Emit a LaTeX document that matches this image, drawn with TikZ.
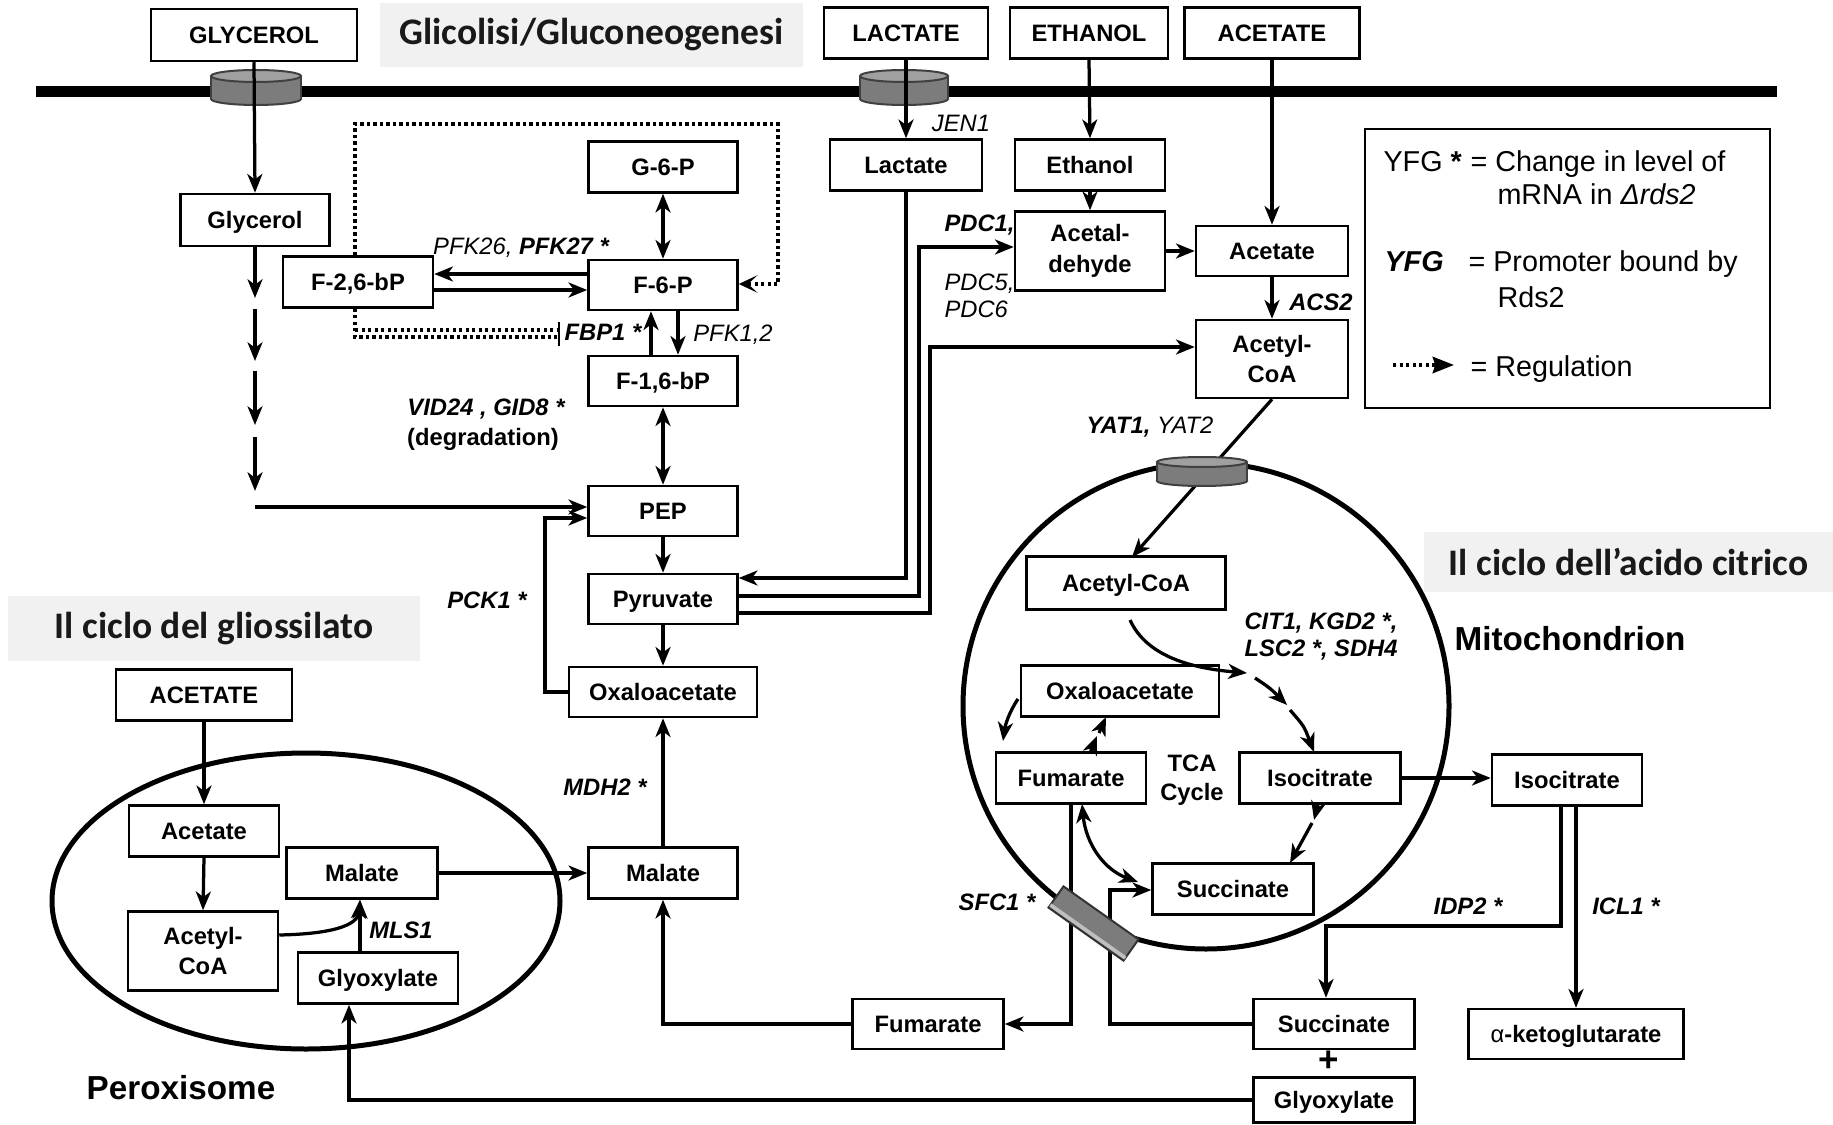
\documentclass[tikz,border=0pt]{standalone}
\usepackage{fontspec}
\setmainfont{Liberation Sans}
\newfontfamily\titlefont{Carlito}
\usetikzlibrary{arrows.meta}
\definecolor{tgray}{HTML}{F1F1F1}
\definecolor{cylgray}{HTML}{7C7C7C}
\definecolor{cyltop}{HTML}{A0A0A0}
\newcommand{\mycyl}[5]{%
  \filldraw[fill=cylgray, draw=black!75, line width=0.8pt] (#1,#3) ellipse [x radius=#4, y radius=#5];
  \fill[cylgray] ({#1-#4},#2) rectangle ({#1+#4},#3);
  \draw[black!75, line width=0.8pt] ({#1-#4},#2) -- ({#1-#4},#3) ({#1+#4},#2) -- ({#1+#4},#3);
  \filldraw[fill=cyltop, draw=black!75, line width=0.8pt] (#1,#2) ellipse [x radius=#4, y radius=#5];
}
\begin{document}
\begin{tikzpicture}[x=0.4pt, y=-0.4pt,
  px/.style 2 args={minimum width=#1*0.4pt, minimum height=#2*0.4pt},
  box/.style={draw, line width=1pt, fill=white, inner sep=0pt, font=\bfseries\fontsize{9.5}{12}\selectfont, text height=6.8pt, text depth=0pt},
  boxtwo/.style={draw, line width=1pt, fill=white, inner sep=0pt, font=\bfseries\fontsize{9.5}{12.2}\selectfont, align=center},
  lab/.style={inner sep=0pt, font=\itshape\fontsize{9.5}{12}\selectfont, text height=6.8pt, text depth=0pt},
  blab/.style={inner sep=0pt, font=\bfseries\itshape\fontsize{9.5}{12}\selectfont, text height=6.8pt, text depth=0pt},
  big/.style={inner sep=0pt, font=\bfseries\fontsize{13.3}{16}\selectfont},
  ttl/.style={fill=tgray, inner sep=0pt, text=black!90, font=\titlefont\bfseries\fontsize{15}{18}\selectfont},
  leg/.style={inner sep=0pt, anchor=base west, font=\fontsize{11.5}{14}\selectfont},
  conn/.style={line width=1.3pt, -{Stealth[length=7.5pt, width=6pt, inset=2.2pt]}},
  dconn/.style={line width=1.3pt, {Stealth[length=7.5pt, width=6pt, inset=2.2pt]}-{Stealth[length=7.5pt, width=6pt, inset=2.2pt]}},
  reg/.style={line width=1.5pt, dash pattern=on 1.3pt off 1.3pt},
  regtip/.style={-{Stealth[length=7.5pt, width=7pt, inset=3.8pt]}},
]
\useasboundingbox (0,0) rectangle (1833,1125);

% ---------- titles ----------
\node[ttl, px={423}{64}] (T1) at (591.5,35) {Glicolisi/Gluconeogenesi};
\node[ttl, px={412}{65}] (T2) at (214,628.5) {Il ciclo del gliossilato};
\node[ttl, px={409}{60}] (T3) at (1628.5,562) {Il ciclo dell’acido citrico};

% ---------- membranes ----------
\draw[line width=4.4pt] (36,91.5) -- (1777,91.5);
\mycyl{256}{76}{99}{45}{6}
\mycyl{904}{76}{99}{44}{6}
\draw[line width=2pt] (306,901) ellipse [x radius=254, y radius=148];
\draw[line width=2pt] (1206,706) circle [radius=243];

% ---------- nodes ----------
\node[box, px={206}{52}] (GLY) at (254,35) {GLYCEROL};
\node[box, px={164}{51}] (LAC) at (906,33) {LACTATE};
\node[box, px={158}{51}] (ETH) at (1089,33) {ETHANOL};
\node[box, px={175}{51}] (ACE) at (1272,33) {ACETATE};
\node[box, px={149}{52}] (gly) at (255,220) {Glycerol};
\node[box, px={149}{51}] (g6p) at (663,167) {G-6-P};
\node[box, px={149}{50}] (f6p) at (663,285) {F-6-P};
\node[box, px={150}{51}] (f26) at (358,282) {F-2,6-bP};
\node[box, px={149}{50}] (f16) at (663,381) {F-1,6-bP};
\node[box, px={149}{50}] (pep) at (663,511) {PEP};
\node[box, px={149}{50}] (pyr) at (663,599) {Pyruvate};
\node[box, px={188}{50}] (oaa) at (663,692) {Oxaloacetate};
\node[box, px={149}{51}] (mal) at (663,873) {Malate};
\node[box, px={152}{51}] (lac) at (906,165) {Lactate};
\node[box, px={150}{51}] (eth) at (1090,165) {Ethanol};
\node[boxtwo, px={150}{79}] (ald) at (1090,251) {Acetal-\\dehyde};
\node[box, px={152}{50}] (ace) at (1272,251) {Acetate};
\node[boxtwo, px={152}{78}] (acoa) at (1272,359) {Acetyl-\\CoA};
\node[box, px={199}{53}] (macoa) at (1126,583) {Acetyl-CoA};
\node[box, px={198}{51}] (moaa) at (1120,691) {Oxaloacetate};
\node[box, px={150}{51}] (mfum) at (1071,778) {Fumarate};
\node[box, px={161}{51}] (miso) at (1320,778) {Isocitrate};
\node[box, px={161}{51}] (msuc) at (1233,889) {Succinate};
\node[box, px={150}{51}] (iso) at (1567,780) {Isocitrate};
\node[box, px={161}{50}] (suc) at (1334,1024) {Succinate};
\node[box, px={161}{45}] (glo) at (1334,1100) {Glyoxylate};
\node[box, px={215}{50}] (akg) at (1576,1034) {{\mdseries α}-ketoglutarate};
\node[box, px={151}{50}] (fum) at (928,1024) {Fumarate};
\node[box, px={176}{51}] (ACEb) at (204,695) {ACETATE};
\node[box, px={150}{51}] (pace) at (204,831) {Acetate};
\node[boxtwo, px={150}{79}] (pacoa) at (203,951) {Acetyl-\\CoA};
\node[box, px={151}{51}] (pmal) at (362,873) {Malate};
\node[box, px={160}{51}] (pglo) at (378,978) {Glyoxylate};

% ---------- labels ----------
\node[lab] (lpfk) at (521,246) {PFK26, \textbf{PFK27 *}};
\node[blab] (lfbp) at (603,332) {FBP1 *};
\node[lab] (lpfk12) at (733,333) {PFK1,2};
\node[blab] (lvid) at (486,407) {VID24 , GID8 *};
\node[inner sep=0pt, font=\bfseries\fontsize{9.5}{12}\selectfont, text height=6.8pt, text depth=0pt] (ldeg) at (483,437) {(degradation)};
\node[blab] (lpck) at (487,600) {PCK1 *};
\node[blab] (lmdh) at (605,787) {MDH2 *};
\node[lab] (ljen) at (961,123) {JEN1};
\node[blab, anchor=west] (lpdc1) at (944,223) {PDC1,};
\node[lab, anchor=west] (lpdc5) at (944,282) {PDC5,};
\node[lab, anchor=west] (lpdc6) at (944,309) {PDC6};
\node[blab] (lacs) at (1321,302) {ACS2};
\node[lab] (lyat) at (1150,425) {\textbf{YAT1,} YAT2};
\node[blab, anchor=west] (lcit1) at (1244,621) {CIT1, KGD2 *,};
\node[blab, anchor=west] (lcit2) at (1244,648) {LSC2 *, SDH4};
\node[big] (lmito) at (1570,639) {Mitochondrion};
\node[inner sep=0pt, align=center, font=\bfseries\fontsize{9.5}{11.6}\selectfont] (ltca) at (1192,780) {TCA\\Cycle};
\node[blab] (lsfc) at (997,902) {SFC1 *};
\node[blab] (lidp) at (1468,906) {IDP2 *};
\node[blab] (licl) at (1626,906) {ICL1 *};
\node[inner sep=0pt, font=\bfseries\fontsize{14}{16}\selectfont] (lplus) at (1329,1061) {+};
\node[blab] (lmls) at (401,930) {MLS1};
\node[big] (lperox) at (181,1088) {Peroxisome};

% ---------- legend ----------
\node[draw, line width=1pt, px={405}{279}] (legend) at (1567.5,268.5) {};
\node[leg] (lg1) at (1383,172) {YFG \textbf{*}};
\node[leg] (lg2) at (1470,172) {= Change in level of};
\node[leg] (lg3) at (1497,205) {mRNA in \textit{Δrds2}};
\node[leg] (lg4) at (1384,272) {\textbf{\textit{YFG}}};
\node[leg] (lg5) at (1468,272) {= Promoter bound by};
\node[leg] (lg6) at (1497,308) {Rds2};
\node[leg] (lg7) at (1470,377) {= Regulation};
\coordinate (la) at (1393,365);
\coordinate (lb) at (1454,365);
\draw[reg, -{Stealth[length=8.5pt, width=6.5pt, inset=1pt]}] (la) -- (lb);

% ---------- coordinates ----------
\coordinate (gd1) at (255,298);
\coordinate (gd2s) at (255,309);
\coordinate (gd2) at (255,361);
\coordinate (gd3s) at (255,371);
\coordinate (gd3) at (255,425);
\coordinate (gd4s) at (255,437);
\coordinate (gd4) at (255,491);
\coordinate (gh) at (255,507);
\coordinate (ya) at (0,274);
\coordinate (yb) at (0,290);
\coordinate (xa) at (651,0);
\coordinate (xb) at (678,0);
\coordinate (c5) at (545,692);
\coordinate (c6) at (545,518);
\coordinate (yl) at (0,578);
\coordinate (c1) at (919,596);
\coordinate (c2) at (919,247);
\coordinate (c3) at (930,613);
\coordinate (c4) at (930,347);
\coordinate (mx) at (1132,557);
\coordinate (gx) at (349,1100);
\coordinate (px) at (360,0);
\coordinate (c8) at (1561,926);
\coordinate (c9) at (1326,926);
\coordinate (xk) at (1576,0);
\coordinate (c11) at (1110,1024);
\coordinate (c12) at (1110,890);
\coordinate (r1) at (355,124);
\coordinate (r2) at (778,124);
\coordinate (r3) at (778,284);
\coordinate (i1) at (355,337);
\coordinate (i2) at (557,337);
\coordinate (i3) at (355,330);
\coordinate (i4) at (557,330);
\coordinate (ib1) at (559,322);
\coordinate (ib2) at (559,346);

% ---------- connectors ----------
\draw[conn] (GLY.south) -- (gly.north);
\draw[conn] (gly.south) -- (gd1);
\draw[conn] (gd2s) -- (gd2);
\draw[conn] (gd3s) -- (gd3);
\draw[conn] (gd4s) -- (gd4);
\draw[conn] (gh) -- (pep.west |- gh);
\draw[dconn] (g6p.south) -- (f6p.north);
\draw[conn] (f6p.west |- ya) -- (f26.east |- ya);
\draw[conn] (f26.east |- yb) -- (f6p.west |- yb);
\draw[conn] (f16.north -| xa) -- (f6p.south -| xa);
\draw[conn] (f6p.south -| xb) -- (f16.north -| xb);
\draw[dconn] (f16.south) -- (pep.north);
\draw[conn] (pep.south) -- (pyr.north);
\draw[conn] (pyr.south) -- (oaa.north);
\draw[conn] (oaa.west) -- (c5) -- (c6) -- (pep.west |- c6);
\draw[conn] (mal.north) -- (oaa.south);
\draw[conn] (pmal.east) -- (mal.west);
\draw[conn] (fum.west) -| (mal.south);
\draw[conn] (glo.west) -- (gx) -- (pglo.south -| gx);
\draw[conn] (LAC.south) -- (lac.north);
\draw[conn] (lac.south) |- (pyr.east |- yl);
\draw[conn] (pyr.east |- c1) -- (c1) -- (c2) -- (ald.west |- c2);
\draw[conn] (pyr.east |- c3) -- (c3) -- (c4) -- (acoa.west |- c4);
\draw[conn] (ETH.south) -- (eth.north);
\draw[conn] (eth.south) -- (ald.north);
\draw[conn] (ald.east |- ace.west) -- (ace.west);
\draw[conn] (ACE.south) -- (ace.north);
\draw[conn] (ace.south) -- (acoa.north);
\draw[conn] (acoa.south) -- (mx);
\draw[conn] (ACEb.south) -- (pace.north);
\draw[conn] (pace.south) -- (pacoa.north);
\draw[conn] (pglo.north -| px) -- (pmal.south -| px);
\draw[conn] (pacoa.east |- 0,935) .. controls (330,934) and (358,926) .. (pmal.south -| px);

% TCA cycle
\coordinate (t0) at (1130,620);
\coordinate (t1) at (1247,673);
\coordinate (t2s) at (1255,678);
\coordinate (t2) at (1287,705);
\coordinate (t3s) at (1290,710);
\coordinate (t4) at (1314,752);
\draw[conn] (t0) .. controls (1146,655) and (1188,668) .. (t1);
\draw[conn] (t2s) .. controls (1270,688) .. (t2);
\draw[conn] (t3s) .. controls (1304,726) .. (t4);
\coordinate (o1) at (1018,699);
\coordinate (o2) at (1003,741);
\draw[conn] (o1) .. controls (1009,712) and (1005,726) .. (o2);
\coordinate (f1) at (1090,753);
\coordinate (f2) at (1097,736);
\coordinate (f3) at (1099,733);
\coordinate (f4) at (1106,717);
\draw[conn] (f1) -- (f2);
\draw[conn] (f3) -- (f4);
\coordinate (s1) at (1318,804);
\coordinate (s2) at (1314,820);
\coordinate (s3) at (1312,823);
\coordinate (s4) at (1290,863);
\draw[conn] (s1) -- (s2);
\draw[conn] (s3) -- (s4);
\coordinate (fs1) at (1082,804);
\coordinate (fs2) at (1138,882);
\draw[dconn] (fs1) .. controls (1086,845) and (1105,870) .. (fs2);
\draw[conn] (miso.east) -- (miso.east -| iso.west);
\draw[conn] (mfum.south) |- (fum.east);
\draw[conn] (suc.west) -- (c11) -- (c12) -- (msuc.west |- c12);
\draw[conn] (iso.south -| c8) -- (c8) -- (c9) -- (suc.north -| c9);
\draw[conn] (iso.south -| xk) -- (akg.north -| xk);

% regulation
\draw[reg, regtip] (f26.north -| r1) -- (r1) -- (r2) -- (r3) -- (f6p.east |- r3);
\draw[reg] (f26.south -| r1) -- (i1) -- (i2);
\draw[reg] (i3) -- (i4);
\draw[line width=1pt] (ib1) -- (ib2);

% transporters on top
\mycyl{1202}{462}{481}{45}{5}
\filldraw[fill=cylgray, draw=black!80, line width=0.8pt] (1048.5,907.6) -- (1063.5,886.4) -- (1138.5,939.4) -- (1123.5,960.6) -- cycle;
\fill[black!25] (1049.3,906.4) -- (1124.3,959.4) -- (1126.4,956.4) -- (1051.4,903.4) -- cycle;
\end{tikzpicture}
\end{document}
